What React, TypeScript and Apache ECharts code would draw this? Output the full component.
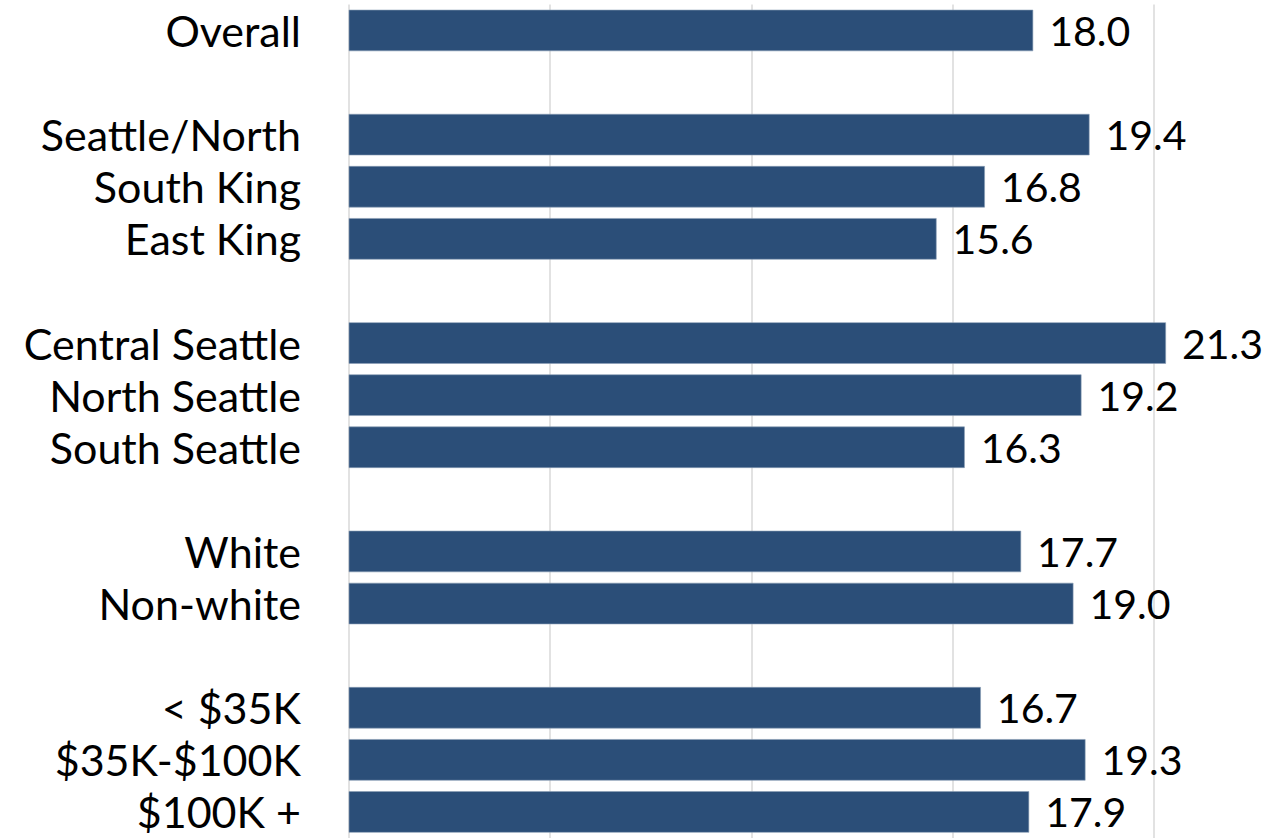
import React, { useEffect, useRef } from "react";
import * as echarts from "echarts";

const categories: string[] = [
  "Overall",
  "",
  "Seattle/North",
  "South King",
  "East King",
  "",
  "Central Seattle",
  "North Seattle",
  "South Seattle",
  "",
  "White",
  "Non-white",
  "",
  "< $35K",
  "$35K-$100K",
  "$100K +",
];

const values: (number | null)[] = [
  18.0,
  null,
  19.4,
  16.8,
  15.6,
  null,
  21.3,
  19.2,
  16.3,
  null,
  17.7,
  19.0,
  null,
  16.7,
  19.3,
  17.9,
];

const axisMin = 1;
const axisMax = 23.86;
const axisInterval = 5;

export default function App() {
  const ref = useRef<HTMLDivElement>(null);

  useEffect(() => {
    if (!ref.current) return;
    const chart = echarts.init(ref.current, undefined, { renderer: "svg" });
    chart.setOption({
      animation: false,
      backgroundColor: "#ffffff",
      grid: { left: 349, right: 0, top: 4.4, height: 836.6, containLabel: false },
      xAxis: {
        type: "value",
        min: axisMin,
        max: axisMax,
        interval: axisInterval,
        axisLabel: { show: false },
        axisLine: { show: false },
        axisTick: { show: false },
        splitLine: { show: true, showMinLine: true, showMaxLine: false, lineStyle: { color: "#D9D9D9", width: 1.5 } },
      },
      yAxis: {
        type: "category",
        data: categories,
        inverse: true,
        axisLine: { show: false },
        axisTick: { show: false },
        splitLine: { show: false },
        axisLabel: {
          margin: 48,
          color: "#000000",
          fontFamily: "Lato",
          fontSize: 43,
          interval: 0,
        },
      },
      series: [
        {
          type: "bar",
          data: values,
          barWidth: "79.5%",
          itemStyle: { color: "#2B4E78", borderColor: "#8A9DB6", borderWidth: 0.6 },
          label: {
            show: true,
            position: "right",
            distance: 16,
            color: "#000000",
            fontFamily: "Lato",
            fontSize: 41,
            formatter: (p: any) => (p.value == null ? "" : Number(p.value).toFixed(1)),
          },
        },
      ],
    });
    return () => chart.dispose();
  }, []);

  return (
    <div
      ref={ref}
      style={{ position: "fixed", left: 0, top: 0, width: 1269, height: 838 }}
    />
  );
}
